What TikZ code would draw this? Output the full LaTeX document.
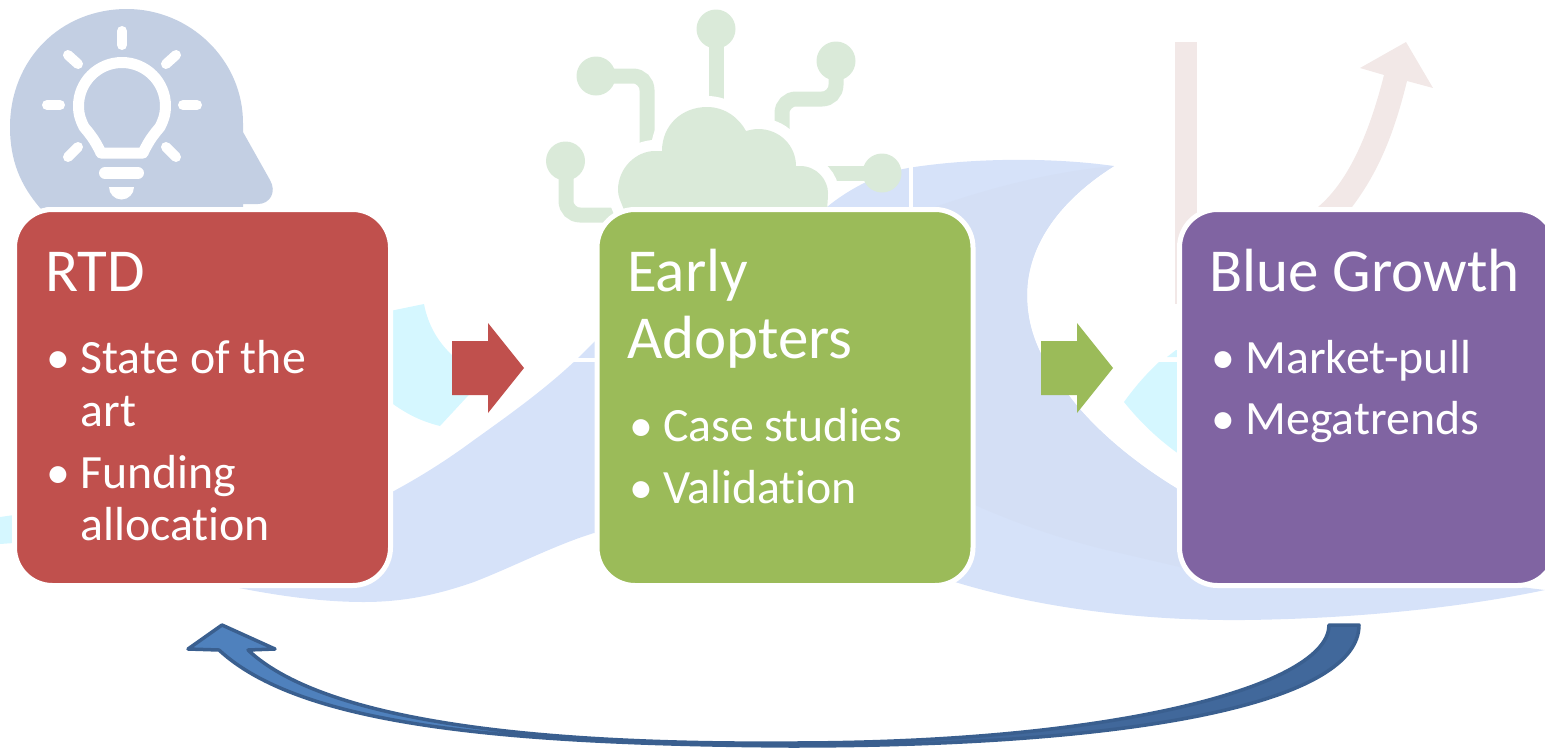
\documentclass[tikz,border=0pt]{standalone}
\usepackage{fontspec}
\setmainfont[RawFeature={-liga;-clig}]{Carlito}
\definecolor{wave}{HTML}{D6E2F9}
\definecolor{wavedark}{HTML}{D4DFF5}
\definecolor{cyanpale}{HTML}{D5F7FF}
\definecolor{headcol}{HTML}{C3CFE3}
\definecolor{cloudcol}{HTML}{DAEAD9}
\definecolor{pinkpale}{HTML}{F2E8E7}
\definecolor{redbox}{HTML}{C0504D}
\definecolor{greenbox}{HTML}{9BBB59}
\definecolor{purplebox}{HTML}{8064A2}
\definecolor{arrowlight}{HTML}{4F81BD}
\definecolor{arrowmid}{HTML}{41689B}
\definecolor{arrowline}{HTML}{3A5F8F}
\tikzset{
  cardbox/.style={draw=white,line width=5pt,rounded corners=38pt,minimum width=376pt,minimum height=376pt,inner sep=0pt,outer sep=0pt},
  heading/.style={anchor=base west,inner sep=0pt,outer sep=0pt,text=white,font=\fontsize{61}{61}\selectfont},
  itemtext/.style={anchor=base west,inner sep=0pt,outer sep=0pt,text=white,font=\fontsize{47.8}{48}\selectfont},
  bulbline/.style={draw=white,line width=11pt,line cap=round,line join=round},
  rayline/.style={draw=white,line width=10pt,line cap=round},
  circuit/.style={draw=cloudcol,line width=15pt},
  bluearrow/.style={draw=arrowline,line width=3.5pt,line join=round},
}
\begin{document}
\begin{tikzpicture}[x=1pt,y=-1pt]
\useasboundingbox (0,0) rectangle (1545,750);
\clip (0,0) rectangle (1545,750);
% cloud circuits, cut back by a white margin round the cloud
\draw[circuit] (716,29) -- (716,110);
\draw[circuit,rounded corners=14pt] (596,76) -- (647,76) -- (647,150);
\draw[circuit,rounded corners=14pt] (836,61) -- (836,99) -- (782,99) -- (782,135);
\draw[circuit,rounded corners=14pt] (566,161) -- (566,215) -- (625,215);
\draw[circuit] (800,173) -- (882,173);
\draw[white,line width=22pt] (625,212) .. controls (620,200) and (618,196) .. (618,190)
  .. controls (618,168) and (636,151) .. (655,151) -- (662,151)
  .. controls (662,125) and (682,107) .. (707,107)
  .. controls (725,107) and (739,118) .. (746,131)
  .. controls (750,130) and (754,129) .. (758,129)
  .. controls (780,129) and (796,146) .. (796,166) -- (800,166)
  .. controls (817,166) and (828,180) .. (828,193)
  .. controls (828,200) and (827,207) .. (827,212);
% wave
\fill[wave] (239,588) .. controls (290,598) and (330,602) .. (364,602)
  .. controls (410,602) and (445,592) .. (474,582)
  .. controls (515,566) and (555,545) .. (594,533)
  -- (955,582) .. controls (1030,605) and (1130,621) .. (1244,620)
  .. controls (1340,619) and (1450,610) .. (1545,590)
  -- (1300,560) -- (1176,488)
  .. controls (1130,460) and (1090,425) .. (1067,393)
  .. controls (1040,360) and (1027,330) .. (1027,295)
  .. controls (1027,245) and (1060,200) .. (1114,166)
  .. controls (1050,157) and (970,158) .. (908,168)
  .. controls (880,173) and (850,188) .. (827,207)
  -- (594,342) .. controls (558,380) and (516,410) .. (474,440)
  .. controls (447,460) and (420,477) .. (392,492) -- cycle;
\fill[wavedark] (1114,166) .. controls (1050,172) and (990,188) .. (935,207)
  -- (975,505) .. controls (1020,525) and (1070,542) .. (1120,553) -- (1180,567) -- (1176,488)
  .. controls (1130,460) and (1090,425) .. (1067,393)
  .. controls (1040,360) and (1027,330) .. (1027,295)
  .. controls (1027,245) and (1060,200) .. (1114,166) -- cycle;
% cyan pieces
\fill[cyanpale] (385,312) -- (424,304) .. controls (428,325) and (438,342) .. (452,355)
  -- (478,385) -- (440,426) .. controls (420,421) and (404,413) .. (385,398) -- cycle;
\fill[cyanpale] (0,517) -- (14,515) -- (14,543) -- (0,544) -- cycle;
\fill[cyanpale] (1124,402) .. controls (1134,388) and (1146,374) .. (1159,362)
  -- (1190,362) -- (1190,460) -- (1176,452) .. controls (1157,438) and (1140,422) .. (1124,402) -- cycle;
\fill[cyanpale] (1176,350) -- (1167,357) -- (1190,357) -- (1190,350) -- cycle;
% crop lines
\fill[white] (569,358) rectangle (600,362);
\fill[white] (909,165) rectangle (913,212);
% pale rising arrows
\fill[pinkpale] (1175,42) rectangle (1197,304);
\fill[pinkpale] (1318,207) .. controls (1350,180) and (1370,130) .. (1384,75)
  -- (1360,68) -- (1406,42) -- (1433,88) -- (1407,81)
  .. controls (1395,130) and (1380,170) .. (1352,207) -- cycle;
% head
\fill[headcol] (41,209) .. controls (20,185) and (10,160) .. (10,127)
  .. controls (10,60) and (60,9) .. (127,9)
  .. controls (190,9) and (243,60) .. (243,123) -- (243,132) -- (270,180)
  .. controls (277,192) and (270,204) .. (258,204) -- (243,204) -- (243,207) -- (50,207)
  .. controls (46,207) and (44,208) .. (41,209) -- cycle;
\draw[bulbline] (101,153) -- (143,153) .. controls (150,138) and (156,132) .. (160,127)
  .. controls (163,121) and (165.5,115) .. (165.5,106)
  arc[start angle=0,end angle=-180,radius=43.5]
  .. controls (78.5,115) and (81,121) .. (84,127)
  .. controls (88,132) and (94,138) .. (101,153) -- cycle;
\draw[rayline] (122,31) -- (122,45);
\draw[rayline] (68,55) -- (78,64);
\draw[rayline] (176,55) -- (166,64);
\draw[rayline] (47,105) -- (60,105);
\draw[rayline] (183,105) -- (197,105);
\draw[rayline] (68,157) -- (78,147);
\draw[rayline] (176,157) -- (166,147);
\draw[draw=white,line width=12pt,line cap=round] (105,173) -- (138,173);
\fill[white] (109,187) -- (134,187) arc[start angle=0,end angle=180,radius=12.5] -- cycle;
% cloud balls and cloud
\fill[cloudcol] (716,29) circle[radius=19.5];
\fill[cloudcol] (596,76) circle[radius=19.5];
\fill[cloudcol] (836,61) circle[radius=19.5];
\fill[cloudcol] (565.5,161) circle[radius=19.5];
\fill[cloudcol] (882,173) circle[radius=19.5];
\fill[cloudcol] (625,212) .. controls (620,200) and (618,196) .. (618,190)
  .. controls (618,168) and (636,151) .. (655,151) -- (662,151)
  .. controls (662,125) and (682,107) .. (707,107)
  .. controls (725,107) and (739,118) .. (746,131)
  .. controls (750,130) and (754,129) .. (758,129)
  .. controls (780,129) and (796,146) .. (796,166) -- (800,166)
  .. controls (817,166) and (828,180) .. (828,193)
  .. controls (828,200) and (827,207) .. (827,212) -- cycle;
% cards
\node[cardbox,fill=redbox] (rtd) at (202.5,397.5) {};
\node[cardbox,fill=greenbox] (early) at (785,397.5) {};
\node[cardbox,fill=purplebox] (blue) at (1367.5,397.5) {};
% block arrows
\fill[redbox] (452,341) -- (488,341) -- (488,323) -- (524,368) -- (488,413) -- (488,395) -- (452,395) -- cycle;
\fill[greenbox] (1041,341) -- (1077,341) -- (1077,323) -- (1113,368) -- (1077,413) -- (1077,395) -- (1041,395) -- cycle;
% texts
\node[heading] (t1) at (45,291) {RTD};
\node[itemtext] (b1) at (46,373) {•};
\node[itemtext] (t2) at (80.5,373) {State of the};
\node[itemtext] (t3) at (80.5,426) {art};
\node[itemtext] (b2) at (46,488) {•};
\node[itemtext] (t4) at (80.5,488) {Funding};
\node[itemtext] (t5) at (80.5,540) {allocation};
\node[heading] (t6) at (627,291) {Early};
\node[heading] (t7) at (627,358) {Adopters};
\node[itemtext] (b3) at (629,441) {•};
\node[itemtext] (t8) at (663,441) {Case studies};
\node[itemtext] (b4) at (629,503) {•};
\node[itemtext] (t9) at (663,503) {Validation};
\node[heading] (t10) at (1209.5,291) {Blue Growth};
\node[itemtext] (b5) at (1211,373) {•};
\node[itemtext] (t11) at (1245.5,373) {Market-pull};
\node[itemtext] (b6) at (1211,434) {•};
\node[itemtext] (t12) at (1245.5,434) {Megatrends};
% return arrow
\fill[arrowlight] (790,746) .. controls (500,744) and (300,725) .. (219,650)
  -- (188,649) -- (222,625) -- (275,649) -- (248,650)
  .. controls (320,718) and (520,745) .. (790,743) -- cycle;
\draw[bluearrow] (790,746) .. controls (500,744) and (300,725) .. (219,650)
  -- (188,649) -- (222,625) -- (275,649) -- (248,650)
  .. controls (320,718) and (520,745) .. (790,743);
\fill[arrowmid] (790,746) .. controls (1150,746) and (1359,700) .. (1359,625)
  -- (1329,625) .. controls (1329,685) and (1120,743) .. (790,743) -- cycle;
\draw[bluearrow] (790,746) .. controls (1150,746) and (1359,700) .. (1359,625)
  -- (1329,625) .. controls (1329,685) and (1120,743) .. (790,743);
\end{tikzpicture}
\end{document}
